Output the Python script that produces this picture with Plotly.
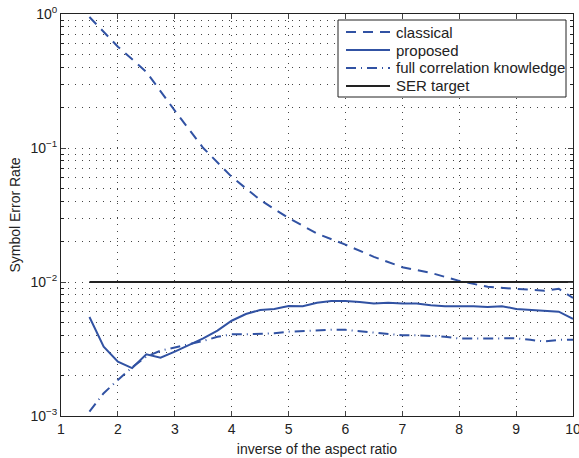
import plotly.graph_objects as go

x_classical = [1.5, 2.0, 2.5, 3.0, 3.5, 4.0, 4.5, 5.0, 5.5, 6.0, 6.5, 7.0, 7.5, 8.0, 8.5, 9.0, 9.5, 9.75, 10.0]
y_classical = [0.95, 0.57, 0.37, 0.19, 0.10, 0.061, 0.041, 0.030, 0.023, 0.019, 0.0154, 0.0129, 0.0117,
               0.0102, 0.0092, 0.0089, 0.0086, 0.0089, 0.0076]

x_grid = [1.5, 1.75, 2.0, 2.25, 2.5, 2.75, 3.0, 3.25, 3.5, 3.75, 4.0, 4.25, 4.5, 4.75, 5.0, 5.25, 5.5, 5.75,
          6.0, 6.25, 6.5, 6.75, 7.0, 7.25, 7.5, 7.75, 8.0, 8.25, 8.5, 8.75, 9.0, 9.25, 9.5, 9.75, 10.0]
y_proposed = [0.00548, 0.00329, 0.00254, 0.00228, 0.00289, 0.00272, 0.00302, 0.00339, 0.0038, 0.00434,
              0.00514, 0.00577, 0.00618, 0.0063, 0.00663, 0.0066, 0.0070, 0.0072, 0.0072, 0.0071, 0.0069,
              0.0070, 0.0069, 0.0069, 0.0067, 0.0066, 0.0066, 0.0066, 0.0065, 0.0066, 0.0063, 0.0062,
              0.0061, 0.0060, 0.0053]
y_full = [0.00108, 0.00148, 0.00186, 0.00231, 0.00277, 0.00307, 0.00325, 0.00344, 0.00363, 0.0039, 0.00407,
          0.00407, 0.0041, 0.00414, 0.00426, 0.0043, 0.00438, 0.0044, 0.0044, 0.0043, 0.0042, 0.0041,
          0.0040, 0.0040, 0.00396, 0.0039, 0.00378, 0.00378, 0.00378, 0.0038, 0.0038, 0.0037, 0.0036,
          0.0037, 0.0037]

x_target = [1.5, 10.0]
y_target = [0.01, 0.01]

series_names = ["classical", "proposed", "full correlation knowledge", "SER target"]

y_tickvals = [1, 0.1, 0.01, 0.001]
y_ticktext = ["10<sup>0</sup>", "10<sup>−1</sup>", "10<sup>−2</sup>", "10<sup>−3</sup>"]
x_tickvals = [1, 2, 3, 4, 5, 6, 7, 8, 9, 10]

BLUE = "#3152a3"
BLACK = "#222222"
FONT = "Liberation Sans, Arial, sans-serif"
DOT = "1px,6px"
GRIDC = "#444444"
DASH = "10px,7px"
DASHDOT = "10px,5px,1px,5px"

W, H = 579, 458
ML, MR, MT, MB = 61, 6, 14, 42
PW, PH = W - ML - MR, H - MT - MB

styles = [dict(color=BLUE, dash=DASH), dict(color=BLUE, dash="solid"),
          dict(color=BLUE, dash=DASHDOT), dict(color=BLACK, dash="solid")]

fig = go.Figure()
fig.add_trace(go.Scatter(x=x_classical, y=y_classical, mode="lines", name=series_names[0],
                         line=dict(width=2, **styles[0])))
fig.add_trace(go.Scatter(x=x_grid, y=y_proposed, mode="lines", name=series_names[1],
                         line=dict(width=2, **styles[1])))
fig.add_trace(go.Scatter(x=x_grid, y=y_full, mode="lines", name=series_names[2],
                         line=dict(width=2, **styles[2])))
fig.add_trace(go.Scatter(x=x_target, y=y_target, mode="lines", name=series_names[3],
                         line=dict(width=2, **styles[3])))


def px_x(px):  # pixel -> paper x
    return (px - ML) / PW


def px_y(py):  # pixel -> paper y
    return 1 - (py - MT) / PH


shapes = [dict(type="rect", xref="paper", yref="paper",
               x0=px_x(338), x1=px_x(566), y0=px_y(97), y1=px_y(20),
               line=dict(color=BLACK, width=1), fillcolor="white", layer="above")]
annotations = []
for i, name in enumerate(series_names):
    yc = 32 + 18 * i
    shapes.append(dict(type="line", xref="paper", yref="paper",
                       x0=px_x(346), x1=px_x(390), y0=px_y(yc), y1=px_y(yc),
                       line=dict(width=2, **styles[i]), layer="above"))
    annotations.append(dict(text=name, xref="paper", yref="paper", x=px_x(394), y=px_y(yc),
                            xanchor="left", yanchor="middle", showarrow=False,
                            font=dict(size=15, color=BLACK, family=FONT)))

fig.update_layout(
    width=W, height=H,
    margin=dict(l=ML, r=MR, t=MT, b=MB),
    paper_bgcolor="white", plot_bgcolor="white",
    font=dict(family=FONT, size=14, color=BLACK),
    showlegend=False,
    shapes=shapes, annotations=annotations,
    xaxis=dict(range=[1, 10], tickvals=x_tickvals, ticks="inside", ticklen=5,
               showline=True, linecolor=BLACK, linewidth=1, mirror="ticks",
               zeroline=False, tickfont=dict(size=14), automargin=False,
               ticklabeloverflow="allow",
               title=dict(text="inverse of the aspect ratio", standoff=8, font=dict(size=14)),
               showgrid=True, gridcolor=GRIDC, griddash=DOT, gridwidth=1),
    yaxis=dict(type="log", range=[-3, 0], tickvals=y_tickvals, ticktext=y_ticktext,
               ticks="inside", ticklen=5,
               showline=True, linecolor=BLACK, linewidth=1, mirror="ticks",
               zeroline=False, tickfont=dict(size=14), automargin=False,
               ticklabeloverflow="allow",
               title=dict(text="Symbol Error Rate", standoff=6, font=dict(size=14)),
               showgrid=True, gridcolor=GRIDC, griddash=DOT, gridwidth=1,
               minor=dict(dtick="D1", ticks="inside", ticklen=3, tickcolor=BLACK,
                          showgrid=True, gridcolor=GRIDC, griddash=DOT, gridwidth=1)),
)

fig.write_html("out.html", config={"displayModeBar": False},
               post_script="document.body.style.margin='0';")
